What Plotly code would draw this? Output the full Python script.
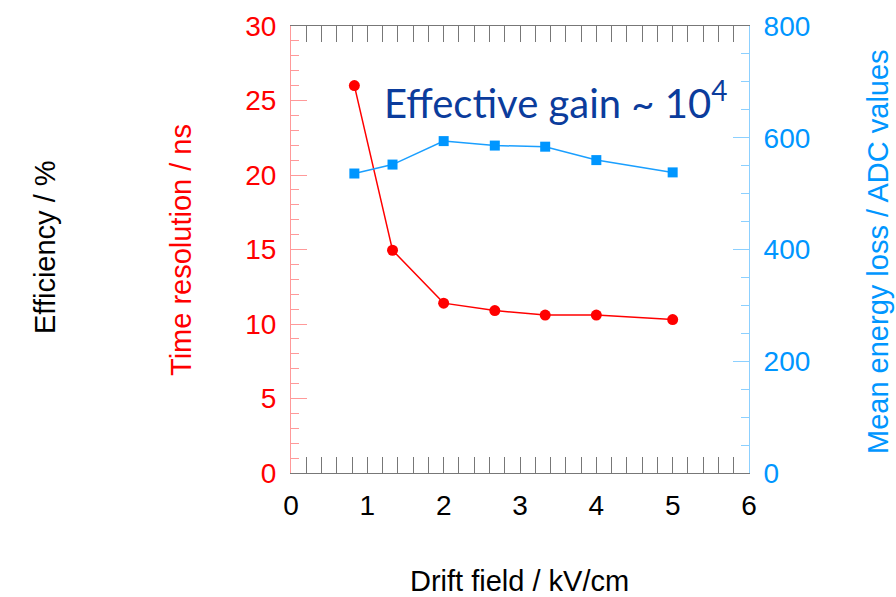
import plotly.graph_objects as go

drift_field = [0.83, 1.33, 2.0, 2.67, 3.33, 4.0, 5.0]
time_resolution = [26.0, 14.95, 11.4, 10.9, 10.6, 10.6, 10.3]
mean_energy_loss = [536, 552, 594, 586, 584, 560, 538]

RED = "#ff0000"
RED_LIGHT = "rgba(255,0,0,0.4)"
BLUE = "#0096ff"
BLUE_LIGHT = "rgba(0,150,255,0.45)"
GREY = "#777777"
FONT = "Liberation Sans, Arial, sans-serif"

fig = go.Figure()
fig.add_trace(go.Scatter(
    x=drift_field, y=time_resolution, mode="lines+markers",
    line=dict(color=RED, width=1.5),
    marker=dict(symbol="circle", size=11, color=RED),
    yaxis="y", showlegend=False))
fig.add_trace(go.Scatter(
    x=drift_field, y=mean_energy_loss, mode="lines+markers",
    line=dict(color="#1a9fff", width=1.5),
    marker=dict(symbol="square", size=10, color=BLUE),
    yaxis="y2", showlegend=False))

L, R, T, B = 291, 147, 26, 124
W, H = 896, 597
pw = W - L - R
ph = H - T - B

fig.update_layout(
    width=W, height=H,
    margin=dict(l=L, r=R, t=T, b=B),
    paper_bgcolor="white", plot_bgcolor="white",
    font=dict(family=FONT, size=28, color="black"),
    xaxis=dict(
        range=[0, 6], dtick=1, tick0=0, showgrid=False, zeroline=False,
        showline=True, linecolor=GREY, linewidth=1, mirror="allticks",
        ticks="inside", ticklen=16, tickwidth=1, tickcolor=GREY,
        minor=dict(dtick=0.2, ticks="inside", ticklen=8, tickcolor=GREY, tickwidth=1),
        tickfont=dict(size=28, color="black"), ticklabelstandoff=7,
    ),
    yaxis=dict(
        range=[0, 30], dtick=5, tick0=0, showgrid=False, zeroline=False,
        showline=True, linecolor=RED_LIGHT, linewidth=1,
        ticks="inside", ticklen=16, tickwidth=1, tickcolor=RED_LIGHT,
        minor=dict(dtick=1, ticks="inside", ticklen=8, tickcolor=RED_LIGHT, tickwidth=1),
        tickfont=dict(size=28, color=RED), ticklabelstandoff=8,
    ),
    yaxis2=dict(
        range=[0, 800], dtick=200, tick0=0, overlaying="y", side="right",
        showgrid=False, zeroline=False,
        showline=True, linecolor=BLUE_LIGHT, linewidth=1,
        ticks="inside", ticklen=16, tickwidth=1, tickcolor=BLUE_LIGHT,
        minor=dict(dtick=50, ticks="inside", ticklen=8, tickcolor=BLUE_LIGHT, tickwidth=1),
        tickfont=dict(size=28, color=BLUE), ticklabelstandoff=8,
    ),
)

def px_x(px):
    return (px - L) / pw

def px_y(py):
    return 1 - (py - T) / ph

fig.add_annotation(text="Efficiency / %", xref="paper", yref="paper",
                   x=px_x(45), y=px_y(247), textangle=-90, showarrow=False,
                   font=dict(family=FONT, size=29, color="black"),
                   xanchor="center", yanchor="middle")
fig.add_annotation(text="Time resolution / ns", xref="paper", yref="paper",
                   x=px_x(181), y=px_y(250), textangle=-90, showarrow=False,
                   font=dict(family=FONT, size=29, color=RED),
                   xanchor="center", yanchor="middle")
fig.add_annotation(text="Mean energy loss / ADC values", xref="paper", yref="paper",
                   x=px_x(878), y=px_y(252), textangle=-90, showarrow=False,
                   font=dict(family=FONT, size=29, color=BLUE),
                   xanchor="center", yanchor="middle")
fig.add_annotation(text="Drift field / kV/cm", xref="paper", yref="paper",
                   x=px_x(519), y=px_y(581), showarrow=False,
                   font=dict(family=FONT, size=29, color="black"),
                   xanchor="center", yanchor="middle")
fig.add_annotation(text="Effective gain ~ 10<sup>4</sup>", xref="paper", yref="paper",
                   x=px_x(382), y=px_y(100), showarrow=False,
                   font=dict(family="Lato", size=40, color="#0b3c9c"),
                   xanchor="left", yanchor="middle")

fig.write_html("out.html")
